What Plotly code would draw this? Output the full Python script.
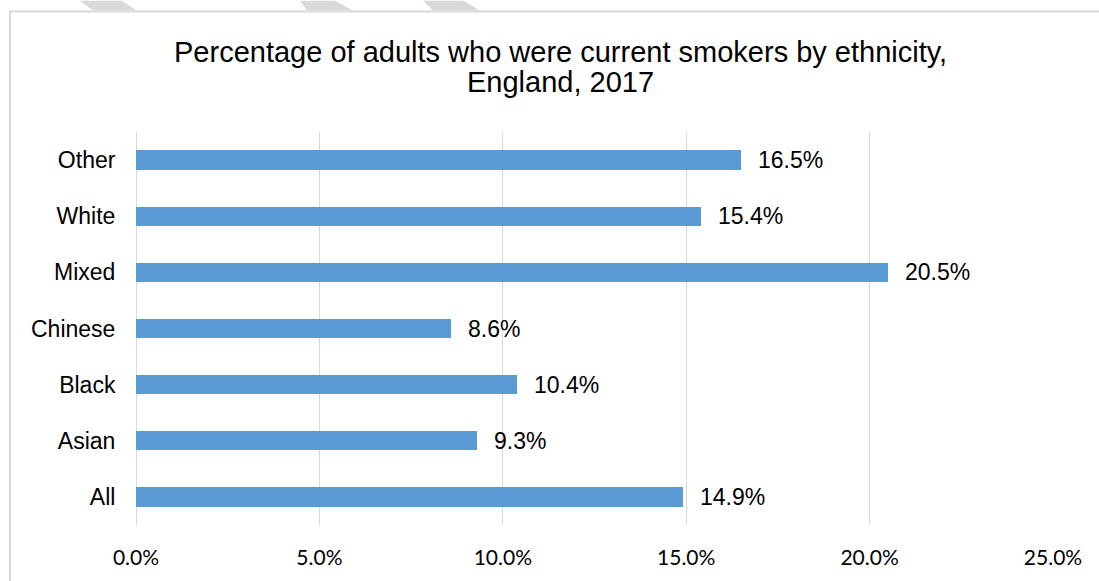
import plotly.graph_objects as go

# Smoking prevalence by ethnic group (bottom to top on the chart)
categories = ["All", "Asian", "Black", "Chinese", "Mixed", "White", "Other"]
values = [14.9, 9.3, 10.4, 8.6, 20.5, 15.4, 16.5]
x_ticks = [0, 5, 10, 15, 20, 25]
title_lines = ["Percentage of adults who were current smokers by ethnicity,",
               "England, 2017"]

W, H = 1099, 581
L, R, T, B = 136, 46, 132, 54
PW, PH = W - L - R, H - T - B


def px_x(px):
    return (px - L) / PW


def px_y(py):
    return (H - B - py) / PH


BAR = "#5b9bd5"
GRID = "#d9d9d9"

fig = go.Figure(
    go.Bar(
        x=values,
        y=categories,
        orientation="h",
        width=0.345,
        marker=dict(color=BAR, line=dict(width=0)),
        hoverinfo="skip",
    )
)

annotations = []
for v, c in zip(values, categories):
    annotations.append(dict(
        x=v, y=c, xref="x", yref="y", text=f"{v:.1f}%", showarrow=False,
        xanchor="left", yanchor="middle", xshift=15,
        font=dict(family="Liberation Sans, Arial", size=23, color="#000000"),
    ))

# two-line chart title, each line placed on its own baseline
for line, cy in zip(title_lines, [52, 82]):
    annotations.append(dict(
        x=px_x(560), y=px_y(cy), xref="paper", yref="paper",
        text=line, showarrow=False, xanchor="center", yanchor="middle",
        font=dict(family="Liberation Sans, Arial", size=29, color="#000000"),
    ))

shapes = [
    # outer chart frame
    dict(type="rect", xref="paper", yref="paper",
         x0=px_x(10), x1=px_x(1110), y0=px_y(600), y1=px_y(11),
         line=dict(color=GRID, width=2), fillcolor="rgba(0,0,0,0)", layer="below"),
]

# light diagonal bands along the top edge
bands = [(80, 122, 93, 137), (300, 335, 307, 353), (423, 463, 433, 480)]
for tx0, tx1, bx0, bx1 in bands:
    path = (f"M {px_x(tx0)} {px_y(0)} L {px_x(tx1)} {px_y(0)} "
            f"L {px_x(bx1)} {px_y(10)} L {px_x(bx0)} {px_y(10)} Z")
    shapes.append(dict(type="path", xref="paper", yref="paper", path=path,
                       fillcolor=GRID, line=dict(width=0), layer="below"))

fig.update_layout(
    width=W, height=H,
    margin=dict(l=L, r=R, t=T, b=B, pad=0),
    paper_bgcolor="white", plot_bgcolor="white",
    showlegend=False,
    annotations=annotations,
    shapes=shapes,
    bargap=0,
    xaxis=dict(
        range=[0, 25], tickvals=x_ticks,
        ticktext=[f"{t:.1f}%" for t in x_ticks],
        showgrid=True, gridcolor=GRID, gridwidth=1,
        zeroline=True, zerolinecolor=GRID, zerolinewidth=1,
        showline=False, ticks="outside", ticklen=14, tickcolor="rgba(0,0,0,0)",
        tickfont=dict(family="Lato", size=21, color="#000000"),
        fixedrange=True,
    ),
    yaxis=dict(
        categoryorder="array", categoryarray=categories,
        range=[-0.5, 6.5],
        showgrid=False, zeroline=False, showline=False,
        ticks="outside", ticklen=15, tickcolor="rgba(0,0,0,0)",
        tickfont=dict(family="Liberation Sans, Arial", size=23, color="#000000"),
        fixedrange=True,
    ),
)

fig.write_html("out.html")
